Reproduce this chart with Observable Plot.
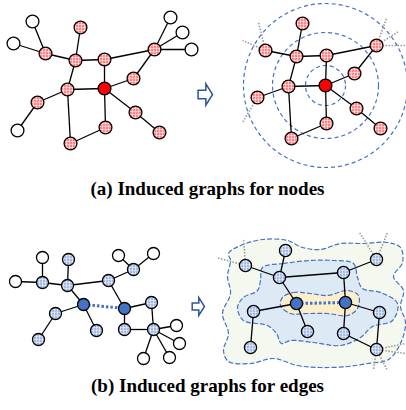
<!DOCTYPE html>
<html><head><meta charset="utf-8">
<script src="https://cdn.jsdelivr.net/npm/d3@7"></script>
<script src="https://cdn.jsdelivr.net/npm/@observablehq/plot@0.6"></script>
<style>body{margin:0;background:#fff} svg{display:block}</style>
</head><body><div id="chart"></div>
<script>
// ---------- (a) node-induced graphs ----------
const nodesALeft = [
  {id:"c",  kind:"red",   x:104, y:88},
  {id:"p1", kind:"pink",  x:80,  y:27},
  {id:"p2", kind:"pink",  x:45,  y:53},
  {id:"p3", kind:"pink",  x:75,  y:60},
  {id:"p4", kind:"pink",  x:104, y:59},
  {id:"p5", kind:"pink",  x:154, y:49},
  {id:"p6", kind:"pink",  x:133, y:78},
  {id:"p7", kind:"pink",  x:67,  y:89},
  {id:"p8", kind:"pink",  x:37,  y:102},
  {id:"p9", kind:"pink",  x:135, y:112},
  {id:"p10",kind:"pink",  x:105, y:127},
  {id:"p11",kind:"pink",  x:159, y:132},
  {id:"p12",kind:"pink",  x:70,  y:143},
  {id:"w1", kind:"white", x:32,  y:21},
  {id:"w2", kind:"white", x:13,  y:43},
  {id:"w3", kind:"white", x:170, y:17},
  {id:"w4", kind:"white", x:182, y:32},
  {id:"w5", kind:"white", x:191, y:49},
  {id:"w6", kind:"white", x:17,  y:130}
];
const nodesARight = [
  {id:"c",  kind:"red",  x:325, y:85},
  {id:"p1", kind:"pink", x:302, y:23},
  {id:"p2", kind:"pink", x:265, y:50},
  {id:"p3", kind:"pink", x:296, y:56},
  {id:"p4", kind:"pink", x:326, y:55},
  {id:"p5", kind:"pink", x:376, y:45},
  {id:"p6", kind:"pink", x:354, y:73},
  {id:"p7", kind:"pink", x:288, y:86},
  {id:"p8", kind:"pink", x:257, y:97},
  {id:"p9", kind:"pink", x:356, y:108},
  {id:"p10",kind:"pink", x:326, y:123},
  {id:"p11",kind:"pink", x:380, y:128},
  {id:"p12",kind:"pink", x:291, y:138}
];
const edgesA = [["w1","p2"],["w2","p2"],["p2","p3"],["p1","p3"],["p3","p4"],["p3","p7"],
  ["p4","p5"],["p4","c"],["p5","w3"],["p5","w4"],["p5","w5"],["p5","p6"],["p6","c"],
  ["p7","c"],["p7","p8"],["p8","w6"],["p7","p12"],["p12","p10"],["p10","c"],["c","p9"],["p9","p11"]];
const stubsARight = [["p2",242,40],["p2",258,22],["p5",386,18],["p5",398,31],["p5",405,45],["p8",242,122]];
const hopRadii = [20, 53, 82];

// ---------- (b) edge-induced graphs ----------
const nodesBLeft = [
  {id:"d1", kind:"dark",  x:83,  y:304},
  {id:"d2", kind:"dark",  x:124, y:308},
  {id:"q1", kind:"blue",  x:42,  y:282},
  {id:"q2", kind:"blue",  x:68,  y:259},
  {id:"q3", kind:"blue",  x:67,  y:285},
  {id:"q4", kind:"blue",  x:108, y:280},
  {id:"q5", kind:"blue",  x:133, y:269},
  {id:"q6", kind:"blue",  x:151, y:302},
  {id:"q7", kind:"blue",  x:55,  y:313},
  {id:"q8", kind:"blue",  x:96,  y:330},
  {id:"q9", kind:"blue",  x:38,  y:339},
  {id:"q10",kind:"blue",  x:124, y:329},
  {id:"q11",kind:"blue",  x:153, y:329},
  {id:"v1", kind:"white", x:42,  y:257},
  {id:"v2", kind:"white", x:15,  y:281},
  {id:"v3", kind:"white", x:118, y:255},
  {id:"v4", kind:"white", x:153, y:253},
  {id:"v5", kind:"white", x:176, y:325},
  {id:"v6", kind:"white", x:179, y:343},
  {id:"v7", kind:"white", x:169, y:357},
  {id:"v8", kind:"white", x:143, y:358}
];
const nodesBRight = [
  {id:"d1", kind:"dark", x:296, y:303},
  {id:"d2", kind:"dark", x:345, y:302},
  {id:"q1", kind:"blue", x:245, y:265},
  {id:"q2", kind:"blue", x:285, y:250},
  {id:"q3", kind:"blue", x:279, y:277},
  {id:"q4", kind:"blue", x:343, y:272},
  {id:"q5", kind:"blue", x:376, y:259},
  {id:"q6", kind:"blue", x:379, y:312},
  {id:"q7", kind:"blue", x:253, y:311},
  {id:"q8", kind:"blue", x:307, y:331},
  {id:"q9", kind:"blue", x:250, y:347},
  {id:"q10",kind:"blue", x:343, y:333},
  {id:"q11",kind:"blue", x:376, y:349}
];
const edgesB = [["v1","q1"],["v2","q1"],["q1","q3"],["q2","q3"],["q3","q4"],["q3","d1"],
  ["q4","q5"],["q5","v3"],["q5","v4"],["q4","d2"],["d1","q7"],["q7","q9"],["d1","q8"],
  ["d2","q10"],["d2","q6"],["q10","q11"],["q6","q11"],["q11","v5"],["q11","v6"],["q11","v7"],["q11","v8"]];
const targetEdge = [["d1","d2"]];
const stubsBRight = [["q1",216,257],["q1",243,238],["q5",359,232],["q5",387,232],
  ["q11",405,343],["q11",405,353],["q11",387,370],["q11",373,369]];
const regionOuter = [[228,253],[240,245],[262,239],[287,240],[302,247],[320,249],[340,243],[362,243],
  [387,242],[400,247],[402,262],[393,276],[403,290],[400,306],[405,322],[400,343],[388,359],[367,363],
  [347,366],[320,367],[297,365],[273,358],[250,363],[228,361],[223,350],[228,333],[222,313],[230,293],[227,276],[230,260]];
const regionMiddle = [[262,267],[283,263],[310,260],[333,260],[353,263],[357,277],[362,288],[380,292],
  [397,303],[392,320],[372,326],[360,337],[340,345],[313,342],[290,340],[281,343],[276,333],[267,325],
  [243,320],[237,307],[243,297],[257,290],[260,280]];
const regionInner = [[282,297],[293,292],[310,293],[327,295],[347,290],[358,295],[357,308],[347,315],
  [327,313],[307,313],[290,313],[280,305]];

const arrows = [{x:205, y:94, r:10.6}, {x:198, y:306, r:9}];
const captions = [{x:207, y:188, label:"(a) Induced graphs for nodes"},
                  {x:207, y:385, label:"(b) Induced graphs for edges"}];

// ---------- helpers ----------
function edgeRows(edges, nodes) {
  const m = new Map(nodes.map(d => [d.id, d]));
  return edges.filter(([a, b]) => m.has(a) && m.has(b))
    .map(([a, b]) => ({x1: m.get(a).x, y1: m.get(a).y, x2: m.get(b).x, y2: m.get(b).y}));
}
function stubRows(stubs, nodes) {
  const m = new Map(nodes.map(d => [d.id, d]));
  return stubs.map(([a, x, y]) => ({x1: m.get(a).x, y1: m.get(a).y, x2: x, y2: y}));
}
const arrowSymbol = {
  draw(ctx, size) {
    const s = Math.sqrt(size / Math.PI) / 9;
    ctx.moveTo(-6.3*s, -3.6*s);
    ctx.lineTo(0.3*s, -3.6*s);
    ctx.lineTo(0.3*s, -9*s);
    ctx.lineTo(6*s, 0);
    ctx.lineTo(0.3*s, 9*s);
    ctx.lineTo(0.3*s, 3.6*s);
    ctx.lineTo(-6.3*s, 3.6*s);
    ctx.closePath();
  }
};
const BLUE = "#4472c4";
const fills = {red:"#ff0000", pink:"url(#dotsRed)", white:"white", dark:BLUE, blue:"url(#dotsBlue)"};
const linkStyle = {x1:"x1", y1:"y1", x2:"x2", y2:"y2"};
const nodeMarks = (nodes, r) => Object.keys(fills).map(k =>
  Plot.dot(nodes.filter(d => d.kind === k), {x:"x", y:"y", r, fill: fills[k], stroke:"black", strokeWidth:1.3}));
const region = (pts, fill) => Plot.line(pts, {x: d => d[0], y: d => d[1], curve:"catmull-rom-closed",
  fill, stroke: BLUE, strokeWidth:1.2, strokeDasharray:"4,3"});
const center = nodesARight.find(d => d.id === "c");

const chart = Plot.plot({
  width: 406, height: 410, margin: 0,
  x: {domain: [0, 406], range: [0, 406], axis: null},
  y: {domain: [0, 410], range: [0, 410], axis: null},
  r: {type: "identity"},
  marks: [
    region(regionOuter, "#f4f8ee"),
    region(regionMiddle, "#dde9f4"),
    region(regionInner, "#fdeecb"),
    Plot.dot(hopRadii.map(r => ({x: center.x, y: center.y, r})), {x:"x", y:"y", r:"r",
      fill:"none", stroke: BLUE, strokeWidth:1.2, strokeDasharray:"4,3"}),
    Plot.link(stubRows(stubsARight, nodesARight), {...linkStyle, stroke:"#9a9a9a", strokeWidth:1.6, strokeDasharray:"1.5,1.5"}),
    Plot.link(stubRows(stubsBRight, nodesBRight), {...linkStyle, stroke:"#9a9a9a", strokeWidth:1.6, strokeDasharray:"1.5,1.5"}),
    Plot.link(edgeRows(edgesA, nodesALeft), {...linkStyle, stroke:"black", strokeWidth:1.3}),
    Plot.link(edgeRows(edgesA, nodesARight), {...linkStyle, stroke:"black", strokeWidth:1.3}),
    Plot.link(edgeRows(edgesB, nodesBLeft), {...linkStyle, stroke:"black", strokeWidth:1.3}),
    Plot.link(edgeRows(edgesB, nodesBRight), {...linkStyle, stroke:"black", strokeWidth:1.3}),
    Plot.link(edgeRows(targetEdge, nodesBLeft), {...linkStyle, stroke: BLUE, strokeWidth:3, strokeDasharray:"2.5,2"}),
    Plot.link(edgeRows(targetEdge, nodesBRight), {...linkStyle, stroke: BLUE, strokeWidth:3, strokeDasharray:"2.5,2"}),
    ...nodeMarks(nodesALeft, 6.4),
    ...nodeMarks(nodesARight, 6.4),
    ...nodeMarks(nodesBLeft, 6),
    ...nodeMarks(nodesBRight, 6.1),
    Plot.dot(arrows, {x:"x", y:"y", r:"r", symbol: arrowSymbol, fill:"white", stroke:"#2f5597", strokeWidth:1.5}),
    Plot.text(captions, {x:"x", y:"y", text:"label", fontFamily:"Liberation Serif", fontWeight:"bold",
      fontSize:19, fill:"black", textAnchor:"middle"})
  ]
});

// dotted fill patterns
const defs = d3.select(chart).insert("defs", ":first-child");
function pattern(id, bg, dot, rr) {
  const p = defs.append("pattern").attr("id", id).attr("patternUnits", "userSpaceOnUse")
    .attr("width", 3).attr("height", 3);
  p.append("rect").attr("width", 3).attr("height", 3).attr("fill", bg);
  p.append("circle").attr("cx", 1.5).attr("cy", 1.5).attr("r", rr).attr("fill", dot);
}
pattern("dotsRed", "#ffffff", "#ff0000", 1.0);
pattern("dotsBlue", "#f4f7fc", "#4472c4", 0.9);

document.getElementById("chart").append(chart);
</script></body></html>
